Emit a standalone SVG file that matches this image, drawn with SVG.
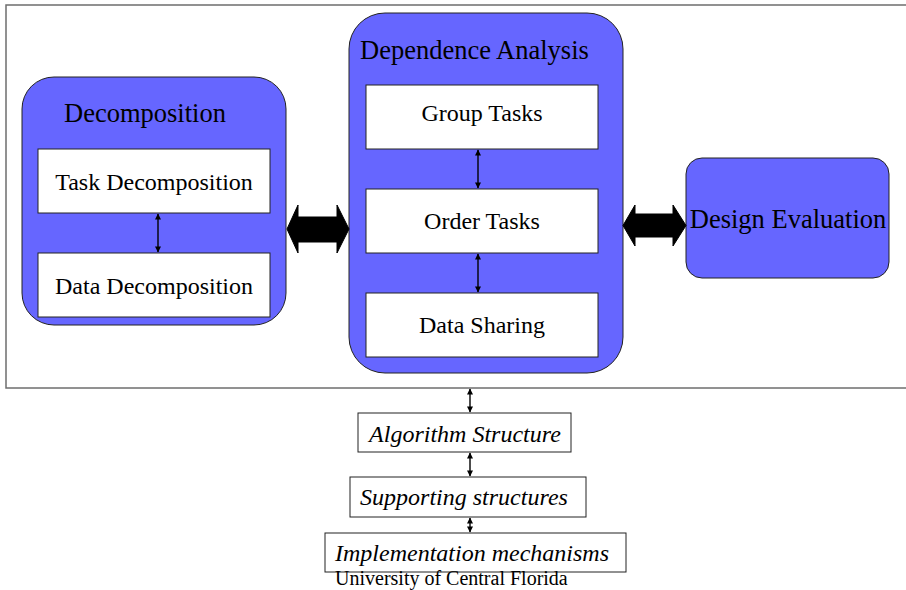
<svg xmlns="http://www.w3.org/2000/svg" width="906" height="590" viewBox="0 0 906 590">
<style>
.frame{fill:none;stroke:#6e6e6e;stroke-width:1.5}
.grp{fill:#6666ff;stroke:#222;stroke-width:1}
.box{fill:#fff;stroke:#222;stroke-width:1}
.t{font-family:"Liberation Serif","Times New Roman",serif;fill:#000}
.title{font-size:26.5px}
.sub{font-size:24px;text-anchor:middle}
.it{font-size:24px;font-style:italic;text-anchor:middle}
.link{stroke:#000;stroke-width:1.4;fill:none;marker-start:url(#ah);marker-end:url(#ah)}
.big{fill:#000;stroke:#000;stroke-width:1}
</style>
<defs>
<marker id="ah" viewBox="0 0 10 10" refX="9" refY="5" markerWidth="7" markerHeight="6" orient="auto-start-reverse" markerUnits="userSpaceOnUse">
<path d="M0,0 L10,5 L0,10 z" fill="#000"/>
</marker>
</defs>
<rect width="906" height="590" fill="#fff"/>
<rect class="frame" x="6" y="5" width="920" height="383"/>

<g id="decomposition">
<rect class="grp" x="22" y="77" width="264" height="248" rx="32" ry="32"/>
<text class="t title" x="64" y="122">Decomposition</text>
</g>
<g id="task-decomposition">
<rect class="box" x="38" y="149" width="232" height="64"/>
<text class="t sub" x="154" y="190">Task Decomposition</text>
</g>
<g id="data-decomposition">
<rect class="box" x="38" y="253" width="232" height="64"/>
<text class="t sub" x="154" y="294">Data Decomposition</text>
</g>

<g id="dependence-analysis">
<rect class="grp" x="349" y="13" width="274" height="360" rx="36" ry="36"/>
<text class="t title" x="360" y="59">Dependence Analysis</text>
</g>
<g id="group-tasks">
<rect class="box" x="366" y="85" width="232" height="64"/>
<text class="t sub" x="482" y="121">Group Tasks</text>
</g>
<g id="order-tasks">
<rect class="box" x="366" y="189" width="232" height="64"/>
<text class="t sub" x="482" y="229">Order Tasks</text>
</g>
<g id="data-sharing">
<rect class="box" x="366" y="293" width="232" height="64"/>
<text class="t sub" x="482" y="333">Data Sharing</text>
</g>

<g id="design-evaluation">
<rect class="grp" x="686" y="158" width="203" height="120" rx="16" ry="16"/>
<text class="t title" x="788" y="228" text-anchor="middle">Design Evaluation</text>
</g>

<g id="algorithm-structure">
<rect class="box" x="358" y="413" width="213" height="39"/>
<text class="t it" x="465" y="442">Algorithm Structure</text>
</g>
<g id="supporting-structures">
<rect class="box" x="350" y="477" width="236" height="40"/>
<text class="t it" x="464" y="505">Supporting structures</text>
</g>
<g id="implementation-mechanisms">
<rect class="box" x="325" y="533" width="301" height="39"/>
<text class="t it" x="472" y="561">Implementation mechanisms</text>
</g>

<text class="t" x="335" y="585" font-size="20" fill="#555">University of Central Florida</text>

<g id="connectors">
<line class="link" x1="158" y1="214" x2="158" y2="252"/>
<line class="link" x1="478" y1="150" x2="478" y2="188"/>
<line class="link" x1="478" y1="254" x2="478" y2="292"/>
<line class="link" x1="470" y1="389" x2="470" y2="412"/>
<line class="link" x1="470" y1="453" x2="470" y2="476"/>
<line class="link" x1="470" y1="518" x2="470" y2="532"/>
<path class="big" d="M287,229 L298,205 L298,217 L337,217 L337,205 L349,229 L337,253 L337,242 L298,242 L298,253 Z"/>
<path class="big" d="M623,225.5 L635,205 L635,214 L673,214 L673,205 L686,225.5 L673,246 L673,237 L635,237 L635,246 Z"/>
</g>
</svg>
